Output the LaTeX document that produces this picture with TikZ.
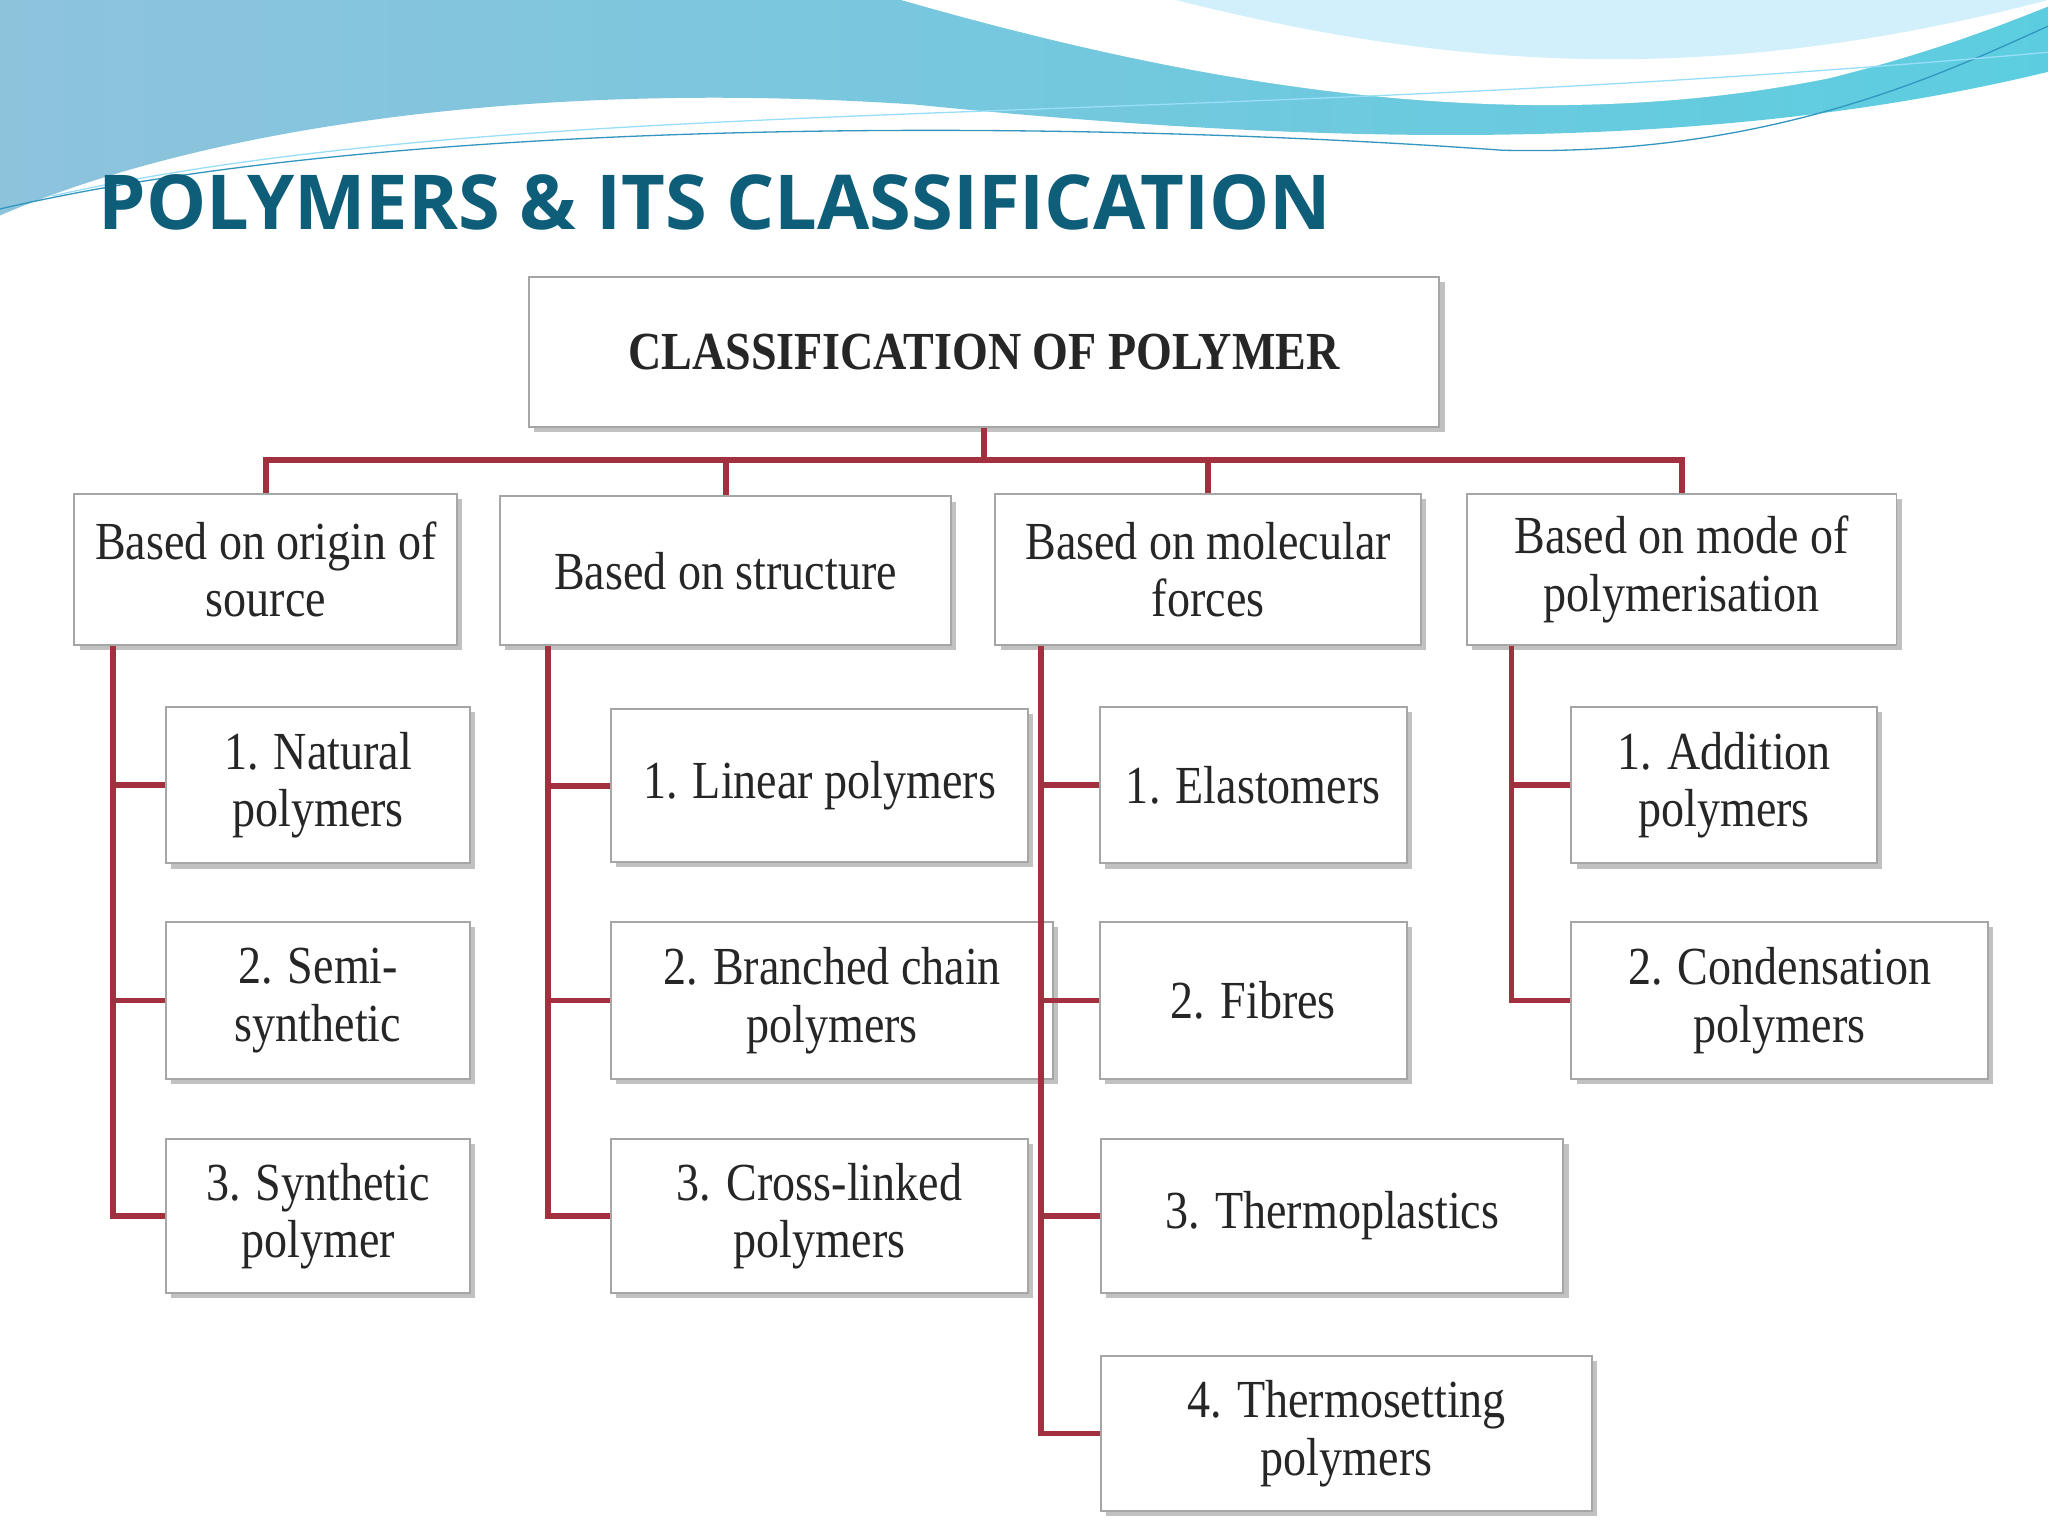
\documentclass[tikz,border=0pt]{standalone}
\usepackage{fontspec}
\setmainfont[FakeStretch=0.86]{Liberation Serif}
\newfontfamily\titlefont{Open Sans}
\usetikzlibrary{shadows,calc}
\definecolor{linkred}{HTML}{A3303F}
\definecolor{titleblue}{HTML}{0E5E7A}
\definecolor{waveL}{HTML}{8EC3DC}
\definecolor{waveR}{HTML}{5CCDE0}
\tikzset{box/.style={draw=gray!70,line width=1.5pt,fill=white,align=center,
  font=\fontsize{41}{44}\selectfont,text=black!85,inner sep=2pt,
  drop shadow={shadow xshift=4pt,shadow yshift=-4pt,fill=gray!60,opacity=.8}},
  link/.style={draw=linkred,line width=4.5pt}}
\newcommand\bx[6]{\node[box,minimum width={(#4-#2)*1pt},minimum height={(#5-#3)*1pt}] (#1) at ({(#2+#4)/2},{(#3+#5)/2}) {#6};}
\begin{document}
\begin{tikzpicture}[x=1pt,y=-1pt]
\useasboundingbox (0,0) rectangle (1568,1176);
\fill[white] (0,0) rectangle (1568,1176);
% header waves
\shade[left color=waveL,right color=waveR] (0,0) -- (1568,0) -- (1568,55) .. controls (1300,120) and (1000,110) .. (700,80) .. controls (400,60) and (150,100) .. (0,165) -- cycle;
\fill[white] (690,0) .. controls (900,60) and (1150,110) .. (1400,60) .. controls (1480,40) and (1530,20) .. (1568,5) -- (1568,0) -- cycle;
\fill[cyan!25,opacity=.7] (900,0) .. controls (1100,50) and (1300,70) .. (1568,0) -- cycle;
\draw[cyan!50!teal,line width=1pt] (0,160) .. controls (300,90) and (800,90) .. (1150,115) .. controls (1350,120) and (1480,60) .. (1568,20);
\draw[cyan!40,line width=1pt] (40,150) .. controls (400,70) and (900,100) .. (1568,40);
\node[font=\titlefont\bfseries\fontsize{58}{60}\selectfont,text=titleblue,anchor=west] (title) at (72,155) {POLYMERS \& ITS CLASSIFICATION};
% boxes
\bx{top}{405}{212}{1102}{327}{\textbf{CLASSIFICATION OF POLYMER}}
\bx{A}{57}{378}{350}{494}{Based on origin of\\source}
\bx{B}{383}{380}{728}{494}{Based on structure}
\bx{C}{762}{378}{1088}{494}{Based on molecular\\forces}
\bx{D}{1123}{378}{1452}{494}{Based on mode of\\polymerisation}
\coordinate (bus) at (753.5,352);
\draw[link] (top.south) -- (bus);
\foreach \n in {A,B,C,D} \draw[link] (\n.north) |- (bus);
\bx{A1}{127}{541}{360}{661}{1. Natural\\polymers}
\bx{A2}{127}{706}{360}{826}{2. Semi-\\synthetic}
\bx{A3}{127}{872}{360}{990}{3. Synthetic\\polymer}
\bx{B1}{468}{543}{787}{660}{1. Linear polymers}
\bx{B2}{468}{706}{806}{826}{2. Branched chain\\polymers}
\bx{B3}{468}{872}{787}{990}{3. Cross-linked\\polymers}
\bx{C1}{842}{541}{1077}{661}{1. Elastomers}
\bx{C2}{842}{706}{1077}{826}{2. Fibres}
\bx{C3}{843}{872}{1197}{990}{3. Thermoplastics}
\bx{C4}{843}{1038}{1219}{1157}{4. Thermosetting\\polymers}
\bx{D1}{1203}{541}{1437}{661}{1. Addition\\polymers}
\bx{D2}{1203}{706}{1522}{826}{2. Condensation\\polymers}
\foreach \p/\o/\k in {A/30/3,B/37/3,D/35/2} {
  \foreach \i in {1,...,\k} \draw[link] ($(\p.south west)+(\o,0)$) |- (\p\i.west);
}
\foreach \i in {1,...,4} \draw[link] ($(C.south west)+(36,0)$) |- (C\i.west);
\end{tikzpicture}
\end{document}
